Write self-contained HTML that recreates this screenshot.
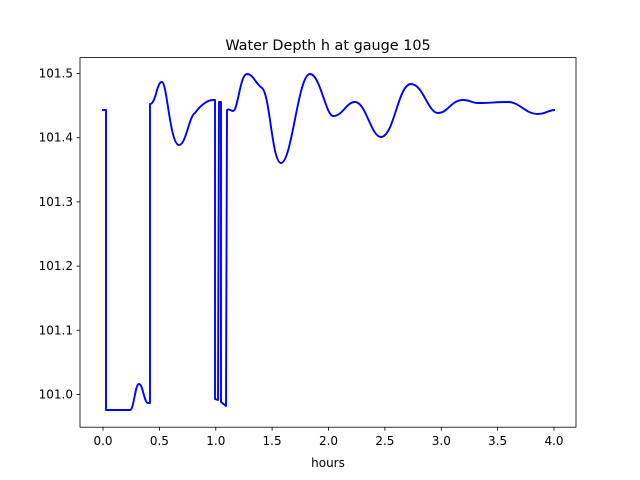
<!DOCTYPE html>
<html><head><meta charset="utf-8"><style>body{margin:0;background:#fff}svg{display:block}text{font-family:"DejaVu Sans","Liberation Sans",sans-serif;fill:#000}</style></head>
<body>
<svg width="640" height="480" viewBox="0 0 640 480" xmlns="http://www.w3.org/2000/svg">
<rect width="640" height="480" fill="#fff"/>
<text x="328" y="50" font-size="14.4" text-anchor="middle">Water Depth h at gauge 105</text>
<path d="M102,110 L106,110 L106,410 L130,410 C134,410 135,384 139,384 C143,384 144,403 148,403 L150,403 L150,104 C153,104 155,98 157,90 C159,84 160,82 162,82 C167,82 170,145 179,145 C186,145 189,116 195,113 C200,106 207,100 213,100 L215,100 L215,399 L218,400 L219,102 L221,102 L221,402 L226,406 L227,110 C229,108 231,111 233,111 C238,111 240,74 247,74 C253,74 256,84 262,88 C270,94 272,163 281,163 C292,163 298,74 310,74 C320,74 326,116 333,116 C343,116 346,102 355,102 C366,102 371,137 381,137 C394,137 398,84 411,84 C423,84 428,113 438,113 C448,113 451,100 463,100 C470,100 472,103 478,103 C490,103 495,102 508,102 C520,102 525,114 538,114 C546,114 548,110 555,110" fill="none" stroke="#0000ff" stroke-width="1.9" stroke-linejoin="round"/>
<rect x="80" y="57.6" width="496" height="369.6" fill="none" stroke="#000" stroke-width="0.8"/>
<g stroke="#000" stroke-width="0.8">
<line x1="103" y1="427.2" x2="103" y2="430.7"/><line x1="159.4" y1="427.2" x2="159.4" y2="430.7"/><line x1="215.8" y1="427.2" x2="215.8" y2="430.7"/><line x1="272.1" y1="427.2" x2="272.1" y2="430.7"/><line x1="328.5" y1="427.2" x2="328.5" y2="430.7"/><line x1="384.9" y1="427.2" x2="384.9" y2="430.7"/><line x1="441.3" y1="427.2" x2="441.3" y2="430.7"/><line x1="497.6" y1="427.2" x2="497.6" y2="430.7"/><line x1="554" y1="427.2" x2="554" y2="430.7"/>
<line x1="76.5" y1="73.5" x2="80" y2="73.5"/><line x1="76.5" y1="137.7" x2="80" y2="137.7"/><line x1="76.5" y1="201.9" x2="80" y2="201.9"/><line x1="76.5" y1="266.1" x2="80" y2="266.1"/><line x1="76.5" y1="330.3" x2="80" y2="330.3"/><line x1="76.5" y1="394.5" x2="80" y2="394.5"/>
</g>
<g font-size="12" text-anchor="middle">
<text x="103" y="445">0.0</text><text x="159.4" y="445">0.5</text><text x="215.8" y="445">1.0</text><text x="272.1" y="445">1.5</text><text x="328.5" y="445">2.0</text><text x="384.9" y="445">2.5</text><text x="441.3" y="445">3.0</text><text x="497.6" y="445">3.5</text><text x="554" y="445">4.0</text>
<text x="328" y="467">hours</text>
</g>
<g font-size="12" text-anchor="end">
<text x="73" y="77.5">101.5</text><text x="73" y="141.7">101.4</text><text x="73" y="205.9">101.3</text><text x="73" y="270.1">101.2</text><text x="73" y="334.3">101.1</text><text x="73" y="398.5">101.0</text>
</g>
</svg>
</body></html>
